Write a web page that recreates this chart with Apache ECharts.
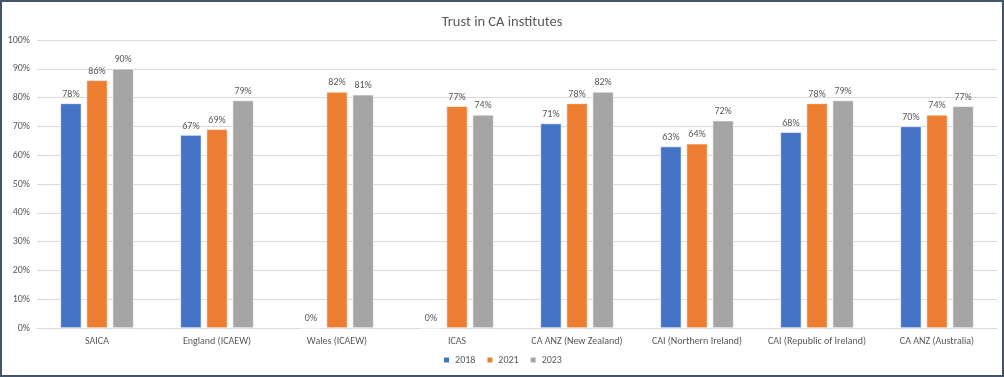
<!DOCTYPE html>
<html>
<head>
<meta charset="utf-8">
<script src="https://cdn.jsdelivr.net/npm/echarts@6/dist/echarts.min.js"></script>
<style>
html,body{margin:0;padding:0;background:#fff;}
#frame{position:absolute;left:0;top:0;width:1000px;height:373px;border:2px solid #44546a;}
#chart{width:1000px;height:373px;}
</style>
</head>
<body>
<div id="frame"><div id="chart"></div></div>
<script>
const categories = ["SAICA","England (ICAEW)","Wales (ICAEW)","ICAS","CA ANZ (New Zealand)","CAI (Northern Ireland)","CAI (Republic of Ireland)","CA ANZ (Australia)"];
const seriesNames = ["2018","2021","2023"];
const values2018 = [78,67,0,0,71,63,68,70];
const values2021 = [86,69,82,77,78,64,78,74];
const values2023 = [90,79,81,74,82,72,79,77];
const colors = ["#4472C4","#ED7D31","#A5A5A5"];

const chart = echarts.init(document.getElementById('chart'));
const font = "Calibri, Carlito, 'Liberation Sans', 'DejaVu Sans', sans-serif";
const mk = (name, data, i) => ({
  name: name, type: 'bar', data: data,
  barGap: '24%', barCategoryGap: '39%',
  itemStyle: {color: colors[i], borderColor: '#ffffff', borderWidth: 0.6},
  label: {show: true, position: 'top', formatter: p => p.value + '%', color: '#595959', fontSize: 10, fontFamily: font, distance: 4}
});
chart.setOption({
  animation: false,
  title: {text: 'Trust in CA institutes', left: 'center', top: 8, textStyle: {fontFamily: font, fontSize: 14.5, fontWeight: 'normal', color: '#595959'}},
  legend: {data: seriesNames, bottom: 5, left: 'center', itemWidth: 7, itemHeight: 7, itemGap: 10, icon: 'rect', textStyle: {fontFamily: font, fontSize: 10, color: '#595959'}},
  grid: {left: 35, right: 5, top: 38, bottom: 47},
  xAxis: {type: 'category', data: categories, axisTick: {show: false}, axisLine: {lineStyle: {color: '#d9d9d9'}}, axisLabel: {color: '#595959', fontSize: 10, fontFamily: font, margin: 8, interval: 0}},
  yAxis: {type: 'value', min: 0, max: 100, interval: 10, axisLabel: {formatter: '{value}%', color: '#595959', fontSize: 10, fontFamily: font, margin: 7}, splitLine: {lineStyle: {color: '#d9d9d9'}}},
  series: [mk(seriesNames[0], values2018, 0), mk(seriesNames[1], values2021, 1), mk(seriesNames[2], values2023, 2)]
});
</script>
</body>
</html>
